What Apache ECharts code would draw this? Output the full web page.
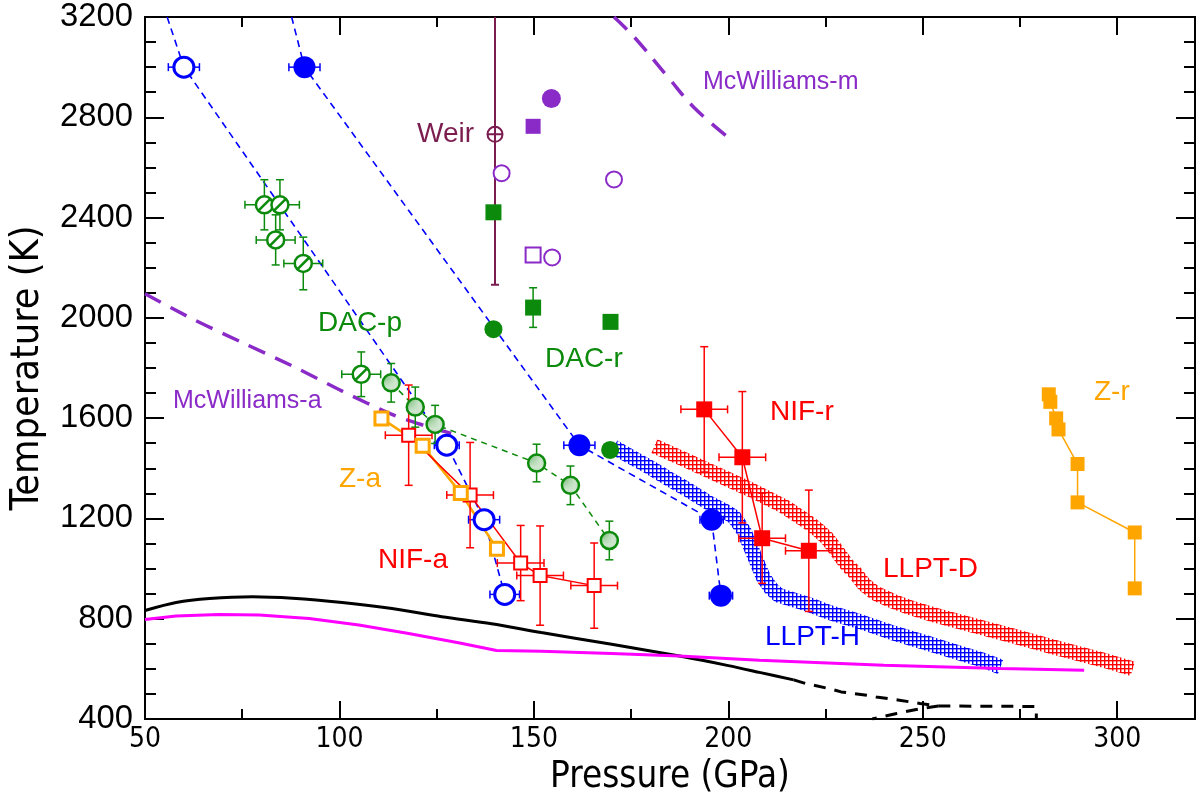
<!DOCTYPE html>
<html><head><meta charset="utf-8">
<script src="https://cdn.jsdelivr.net/npm/echarts@6.0.0/dist/echarts.min.js"></script>
<style>html,body{margin:0;padding:0;background:#fff}#c{width:1200px;height:804px}</style>
</head><body><div id="c"></div><script>
// ---------- data (P in GPa, T in K) ----------
const xTicks = [50, 100, 150, 200, 250, 300];
const yTicks = [400, 800, 1200, 1600, 2000, 2400, 2800, 3200];

// blue circles (open / filled) and their dashed guides
const blueOpen = [[60,3000],[127.6,1492],[137.2,1195],[142.5,897]];
const blueOpenXErr = [4,3.2,4,3.8];
const blueOpenLine = [[55.7,3200],[60,3000],[127.6,1492],[137.2,1195],[142.5,897]];
const blueFilled = [[91,3000],[161.7,1492],[195.7,1195],[198.1,892]];
const blueFilledXErr = [4,4,3,3];
const blueFilledLine = [[87.7,3200],[91,3000],[161.7,1492],[195.7,1195],[198.1,892]];

// DAC-p
const dacSlash = [[80.7,2451],[84.7,2451],[83.6,2311],[90.7,2217],[105.6,1775]];
const dacSlashXErr = [5,5,5,5,5];
const dacSlashYErr = [100,100,100,105,89];
const dacDot = [[113.3,1741],[119.5,1644],[124.6,1575],[150.7,1421],[159.4,1332],[169.4,1112]];
const dacDotYErr = [77,80,76,75,77,77];

// DAC-r
const dacrSquares = [[139.6,2421],[149.8,2041],[169.7,1984]];
const dacrSquaresYErr = [0,79,0];
const dacrCircles = [[139.6,1955],[169.6,1473]];

// purple points
const purpleFilledCircle = [[154.5,2875]];
const purpleFilledSquare = [[149.8,2764]];
const purpleOpenCircle = [[141.7,2577],[170.6,2552],[154.7,2241]];
const purpleOpenSquare = [[149.8,2251]];

// Weir
const weir = [[140,2732]];
const weirYErr = [600];

// NIF-a / NIF-r
const nifA = [[117.8,1532],[133.6,1293],[146.6,1022],[151.6,972],[165.5,932]];
const nifAXErr = [6,6,6,6,6];
const nifAYErr = [200,210,150,198,170];
const nifR = [[193.8,1635],[203.6,1444],[208.7,1121],[220.7,1071]];
const nifRXErr = [6,6,6,6];
const nifRYErr = [250,262,180,242];

// Z-a / Z-r
const zA = [[110.8,1599],[121.4,1490],[131.2,1301],[140.5,1079]];
const zR = [[282.4,1695],[282.8,1665],[284.3,1599],[284.9,1555],[289.8,1417],[289.8,1264],[304.5,1144],[304.5,921]];

// LLPT bands
const llptH = [[170.5,1485],[175,1445],[180,1402],[185,1355],[190,1310],[195,1262],[199,1230],[201.5,1205],[204,1150],[206.5,1058],[209,965],[211,920],[213,893],[217,874],[221,855],[226,825],[234,788],[242,745],[251,703],[259.5,663],[265,637],[270,608]];
const llptD = [[181,1488],[188.7,1435],[197.2,1375],[205.7,1315],[214.3,1248],[220.2,1188],[223,1155],[225.4,1121],[228,1068],[230.5,1015],[232.5,985],[235,935],[238,900],[242,872],[247,843],[253,815],[259.5,788],[272.3,735],[285,681],[298,628],[304,600]];

// curves
const blackSolid = [[50,833],[58,865],[66.6,881],[77.7,888],[87.9,882],[100.7,865],[113.5,841],[126.3,808],[139.1,780],[151.9,745],[170,698],[187.8,650],[200,613],[208.3,585],[216.8,556]];
const blackDashA = [[216.8,556],[220,541],[226,521],[229,508],[235.6,495],[238,488],[244,475],[249.3,462],[254,452],[248,437],[243,421],[237,400]];
const blackDashB = [[254,452],[279.2,450],[279.2,400]];
const magenta = [[50,797],[58,811],[69,817],[79.4,815],[92.2,801],[105,775],[117.8,741],[130.6,704],[140.4,673],[152,670],[170,661],[187.4,651],[208,634],[240,614],[270,601],[291.5,594]];
const mcwA = [[50,2096],[62.3,1995],[75.1,1901],[87.9,1808],[100.7,1708],[113.5,1615],[122,1570],[130.6,1531]];
const mcwM = [[170.6,3200],[175.8,3120],[184.5,2960],[191.1,2840],[199.6,2724]];

// annotation texts
const labels = ['McWilliams-m','Weir','DAC-p','DAC-r','McWilliams-a','NIF-r','Z-r','Z-a','NIF-a','LLPT-D','LLPT-H'];

// ---------- styling ----------
const BLUE='#0000ff', GREEN='#0b8a0b', PURPLE='#8a2bc8', MAROON='#7b1d4f', RED='#ff0000', ORANGE='#ffa500', MAGENTA='#ff00ff';
const cv=document.createElement('canvas').getContext('2d');
function has(f){
  cv.font='40px monospace'; const a=cv.measureText('Pressure 0123 (GPa)').width;
  cv.font='40px "'+f+'", monospace'; const b=cv.measureText('Pressure 0123 (GPa)').width;
  return Math.abs(a-b)>0.5;
}
const NARROW = has('Liberation Sans Narrow') ? '"Liberation Sans Narrow"' :
               (has('Arial Narrow') ? '"Arial Narrow"' :
               (has('DejaVu Sans Condensed') ? '"DejaVu Sans Condensed"' : 'sans-serif'));
const SANS = has('Liberation Sans') ? '"Liberation Sans"' : 'Arial, sans-serif';
function fit(text, fam, w){ cv.font='100px '+fam; return Math.round(1000*w/cv.measureText(text).width)/10; }
const xLabelSize = fit('100', NARROW, 48);
const yLabelSize = fit('3200', SANS, 73);
const xNameSize = fit('Pressure (GPa)', NARROW, 240);
const yNameSize = fit('Temperature (K)', NARROW, 285);

function hatch(color){
  const c=document.createElement('canvas'); c.width=4; c.height=4;
  const g=c.getContext('2d');
  g.fillStyle='rgba(255,255,255,0.8)'; g.fillRect(0,0,4,4);
  g.fillStyle=color; g.fillRect(0,0,4,1.4); g.fillRect(0,0,1.4,4);
  return {image:c, repeat:'repeat'};
}
function dots(color){
  const c=document.createElement('canvas'); c.width=3; c.height=3;
  const g=c.getContext('2d');
  g.fillStyle='#cfe6cf'; g.fillRect(0,0,3,3);
  g.fillStyle=color; g.fillRect(1,1,1.5,1.5);
  return {image:c, repeat:'repeat'};
}

function errSeries(pts, xe, ye, color, lw){
  return {
    type:'custom', clip:true, z:3, silent:true, animation:false,
    renderItem: function(params, api){
      const x=api.value(0), y=api.value(1), ex=api.value(2), ey=api.value(3);
      const c=api.coord([x,y]); const cap=4; const ch=[];
      const st={stroke:color, lineWidth:lw, fill:null};
      if(ey>0){
        const t=api.coord([x,y+ey]), b=api.coord([x,y-ey]);
        ch.push({type:'line',shape:{x1:c[0],y1:t[1],x2:c[0],y2:b[1]},style:st});
        ch.push({type:'line',shape:{x1:c[0]-cap,y1:t[1],x2:c[0]+cap,y2:t[1]},style:st});
        ch.push({type:'line',shape:{x1:c[0]-cap,y1:b[1],x2:c[0]+cap,y2:b[1]},style:st});
      }
      if(ex>0){
        const l=api.coord([x-ex,y]), r=api.coord([x+ex,y]);
        ch.push({type:'line',shape:{x1:l[0],y1:c[1],x2:r[0],y2:c[1]},style:st});
        ch.push({type:'line',shape:{x1:l[0],y1:c[1]-cap,x2:l[0],y2:c[1]+cap},style:st});
        ch.push({type:'line',shape:{x1:r[0],y1:c[1]-cap,x2:r[0],y2:c[1]+cap},style:st});
      }
      return {type:'group', children:ch};
    },
    encode:{x:0,y:1},
    data: pts.map((p,i)=>[p[0],p[1],xe?xe[i]:0,ye?ye[i]:0])
  };
}
function lineS(data, color, width, type, z, smooth){
  return {type:'line', data:data, symbol:'none', z:z||2, silent:true, animation:false, smooth:smooth||false,
    lineStyle:{color:color, width:width, type:type||'solid', cap:'butt'}};
}
function scat(data, symbol, size, fill, border, bw){
  return {type:'scatter', data:data, symbol:symbol, symbolSize:size, z:5, silent:true, animation:false,
    itemStyle:{color:fill, borderColor:border||fill, borderWidth:bw||0, opacity:1}};
}

const slashPath='path://M20,10A10,10,0,1,1,0,10A10,10,0,1,1,20,10Z M3,17L17,3';
const oplusPath='path://M20,10A10,10,0,1,1,0,10A10,10,0,1,1,20,10Z M0,10L20,10 M10,0L10,20';

const chart=echarts.init(document.getElementById('c'),null,{renderer:'canvas'});

const axisLineStyle={color:'#000',width:2};
function xAx(pos, interval, tickLen, labels){
  return {type:'value', min:50, max:320, interval:interval, position:pos,
    axisLine:{show:true, onZero:false, lineStyle:axisLineStyle},
    axisTick:{show:true, inside:true, length:tickLen, lineStyle:{color:'#000',width:2}},
    splitLine:{show:false},
    axisLabel: labels ? {show:true, fontSize:xLabelSize, fontFamily:NARROW, color:'#000', margin:7,
      formatter: v => (xTicks.indexOf(v) >= 0 ? String(v) : '')} : {show:false},
    name: labels ? 'Pressure (GPa)' : '', nameLocation:'middle', nameGap:40,
    nameTextStyle:{fontSize:xNameSize, fontFamily:NARROW, color:'#000'}
  };
}
function yAx(pos, labels){
  return {type:'value', min:400, max:3200, interval:400, position:pos,
    axisLine:{show:true, onZero:false, lineStyle:axisLineStyle},
    axisTick:{show:true, inside:true, length:19, lineStyle:{color:'#000',width:2}},
    minorTick:{show:true, splitNumber:4, length:11, lineStyle:{color:'#000',width:2}},
    splitLine:{show:false}, minorSplitLine:{show:false},
    axisLabel: labels ? {show:true, fontSize:yLabelSize, fontFamily:SANS, color:'#000', margin:12,
      formatter: v => (yTicks.indexOf(v) >= 0 ? String(v) : '')} : {show:false},
    name: labels ? 'Temperature (K)' : '', nameLocation:'middle', nameGap:98, nameRotate:90,
    nameTextStyle:{fontSize:yNameSize, fontFamily:NARROW, color:'#000'}
  };
}

const textPos = {
  'McWilliams-m':[703,82,25,PURPLE], 'Weir':[417,134,28,MAROON], 'DAC-p':[318,323,28,GREEN],
  'DAC-r':[545,359,28,GREEN], 'McWilliams-a':[173,401,25,PURPLE], 'NIF-r':[770,412,28,RED],
  'Z-r':[1094,392,28,ORANGE], 'Z-a':[339,479,28,ORANGE], 'NIF-a':[378,560,28,RED],
  'LLPT-D':[883,569,28,RED], 'LLPT-H':[765,637,28,BLUE]
};
const graphics = labels.map(t=>{ const p=textPos[t]; return {type:'text', x:p[0], y:p[1], z:100,
  style:{text:t, fill:p[3], font:p[2]+'px '+SANS, verticalAlign:'middle', align:'left'}}; });

const series = [
  // bands
  lineS(llptH, hatch(BLUE), 15, 'solid', 1),
  lineS(llptD, hatch(RED), 15, 'solid', 1),
  // curves
  lineS(blackSolid, '#000', 3, 'solid', 2, 0.3),
  lineS(blackDashA, '#000', 3, [12,9]),
  lineS(blackDashB, '#000', 3, [12,9]),
  lineS(magenta, MAGENTA, 3),
  lineS(mcwA, PURPLE, 3.5, [18,11], 2, 0.3),
  lineS(mcwM, PURPLE, 3.5, [18,11], 2, 0.4),
  lineS(blueOpenLine, BLUE, 1.6, [7,5]),
  lineS(blueFilledLine, BLUE, 1.6, [7,5]),
  lineS(dacDot, GREEN, 1.5, [6,5]),
  lineS(zA, ORANGE, 2.5),
  lineS(nifA, RED, 1.5),
  lineS(nifR, RED, 1.5),
  lineS(zR, ORANGE, 1.5),
  // error bars
  errSeries(blueOpen, blueOpenXErr, null, BLUE, 1.5),
  errSeries(blueFilled, blueFilledXErr, null, BLUE, 1.5),
  errSeries(dacSlash, dacSlashXErr, dacSlashYErr, GREEN, 1.5),
  errSeries(dacDot, null, dacDotYErr, GREEN, 1.5),
  errSeries(dacrSquares, null, dacrSquaresYErr, GREEN, 1.5),
  errSeries(weir, null, weirYErr, MAROON, 2),
  errSeries(nifA, nifAXErr, nifAYErr, RED, 1.5),
  errSeries(nifR, nifRXErr, nifRYErr, RED, 1.5),
  // symbols
  scat(blueOpen, 'circle', 20, '#fff', BLUE, 3),
  scat(blueFilled, 'circle', 22, BLUE),
  scat(dacSlash, slashPath, 17, '#fff', GREEN, 2.5),
  scat(dacDot, 'circle', 17, dots(GREEN), GREEN, 2.5),
  scat(dacrSquares, 'rect', 16, GREEN),
  scat(dacrCircles, 'circle', 18, GREEN),
  scat(purpleFilledCircle, 'circle', 19, PURPLE),
  scat(purpleFilledSquare, 'rect', 15, PURPLE),
  scat(purpleOpenCircle, 'circle', 16, '#fff', PURPLE, 2),
  scat(purpleOpenSquare, 'rect', 15, '#fff', PURPLE, 2),
  scat(weir, oplusPath, 15, 'rgba(255,255,255,0)', MAROON, 2),
  scat(nifA, 'rect', 13, '#fff', RED, 2),
  scat(zA, 'rect', 13, '#fff', ORANGE, 3),
  scat(nifR, 'rect', 16, RED),
  scat(zR, 'rect', 14, ORANGE)
];

chart.setOption({
  animation:false,
  backgroundColor:'#fff',
  grid:{left:142, right:5, top:17, bottom:85, containLabel:false},
  xAxis:[ xAx('bottom',50,18,true), xAx('bottom',25,10,false), xAx('top',50,18,false), xAx('top',25,10,false) ],
  yAxis:[ yAx('left',true), yAx('right',false) ],
  series: series,
  graphic: graphics
});
</script></body></html>
